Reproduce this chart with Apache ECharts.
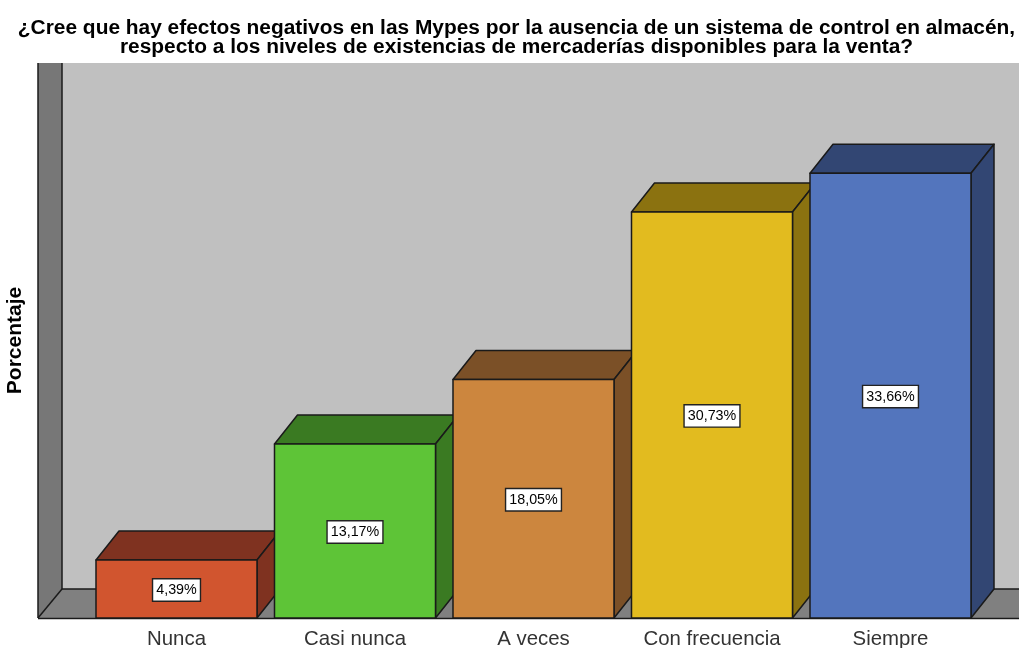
<!DOCTYPE html>
<html><head><meta charset="utf-8">
<style>html,body{margin:0;padding:0;background:#fff}#c{width:1019px;height:648px}</style>
<script src="https://cdn.jsdelivr.net/npm/echarts@6/dist/echarts.min.js"></script>
</head><body><div id="c"></div>
<script>
const categories = ['Nunca','Casi nunca','A veces','Con frecuencia','Siempre'];
const values = [4.39,13.17,18.05,30.73,33.66];
const valueLabels = ['4,39%','13,17%','18,05%','30,73%','33,66%'];
const frontColors = ['#d1552f','#5ec437','#cc863e','#e2bb1f','#5375bd'];
const sideColors = ['#7f3220','#3a7a22','#7b5027','#8b7210','#324673'];
const titleLines = ['¿Cree que hay efectos negativos en las Mypes por la ausencia de un sistema de control en almacén,','respecto a los niveles de existencias de mercaderías disponibles para la venta?'];
const yAxisTitle = 'Porcentaje';

const DX = 23, DY = 29, EDGE = '#1a1a1a';
const chart = echarts.init(document.getElementById('c'), null, {renderer:'canvas'});
const wallLine = {stroke:EDGE, lineWidth:1.5};
chart.setOption({
  animation:false,
  backgroundColor:'#fff',
  title:{
    text:titleLines.join('\n'), left:511.5, top:14, textAlign:'center',
    textStyle:{fontFamily:'Liberation Sans',fontWeight:'bold',fontSize:20.9,lineHeight:19,color:'#000'}
  },
  grid:{left:87.25,right:39.25,top:63,bottom:30,outerBoundsMode:'none'},
  xAxis:{type:'category',data:categories,axisLine:{show:false},axisTick:{show:false},
    axisLabel:{fontFamily:'Liberation Sans',fontSize:20.4,color:'#333',margin:11,interval:0}},
  yAxis:{type:'value',min:0,max:42,interval:6,name:yAxisTitle,nameLocation:'middle',nameGap:62,
    nameTextStyle:{fontFamily:'Liberation Sans',fontWeight:'bold',fontSize:21,color:'#000'},
    axisLine:{show:false},axisTick:{show:false},axisLabel:{show:false},splitLine:{show:false}},
  graphic:[
    {type:'rect',z:0,shape:{x:62,y:63,width:957,height:526},style:{fill:'#c0c0c0'}},
    {type:'polygon',z:0,shape:{points:[[38,63],[62,63],[62,589],[38,618]]},style:{fill:'#777777'}},
    {type:'polygon',z:0,shape:{points:[[38,618],[62,589],[1019,589],[1019,618]]},style:{fill:'#808080'}},
    {type:'line',z:1,shape:{x1:38,y1:63,x2:38,y2:618},style:wallLine},
    {type:'line',z:1,shape:{x1:62,y1:63,x2:62,y2:589},style:wallLine},
    {type:'line',z:1,shape:{x1:38,y1:618,x2:62,y2:589},style:wallLine},
    {type:'line',z:1,shape:{x1:62,y1:589,x2:1019,y2:589},style:wallLine},
    {type:'line',z:1,shape:{x1:38,y1:618.5,x2:1019,y2:618.5},style:wallLine}
  ],
  series:[{
    type:'custom',
    coordinateSystem:'cartesian2d',
    clip:false,
    data:values.map((v,i)=>[i,v]),
    renderItem(params,api){
      const i = api.value(0), top = api.coord([i,api.value(1)]), base = api.coord([i,0]);
      const w = api.size([1,0])[0]*0.902, x0 = top[0]-w/2, x1 = top[0]+w/2, y0 = top[1], y1 = base[1];
      const st = f => ({fill:f,stroke:EDGE,lineWidth:1.5,lineJoin:'round'});
      return {type:'group',children:[
        {type:'polygon',shape:{points:[[x0,y0],[x0+DX,y0-DY],[x1+DX,y0-DY],[x1,y0]]},style:st(sideColors[i])},
        {type:'polygon',shape:{points:[[x1,y0],[x1+DX,y0-DY],[x1+DX,y1-DY],[x1,y1]]},style:st(sideColors[i])},
        {type:'rect',shape:{x:x0,y:y0,width:x1-x0,height:y1-y0},style:st(frontColors[i])},
        {type:'text',x:top[0],y:(y0+y1)/2+1,style:{text:valueLabels[i],align:'center',verticalAlign:'middle',
          fontFamily:'Liberation Sans',fontSize:14.3,fill:'#000',backgroundColor:'#fff',borderColor:'#222',borderWidth:1.4,padding:[4,3,3,3]}}
      ]};
    }
  }]
});
</script></body></html>
